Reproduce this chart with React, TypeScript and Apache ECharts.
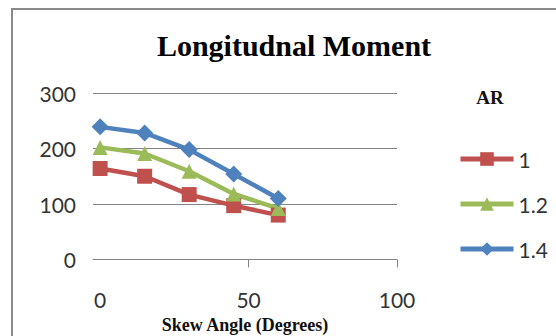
import React, { useEffect, useRef } from "react";
import * as echarts from "echarts";

// Skew angle (degrees) on the x axis
const skewAngles = [0, 15, 30, 45, 60];
// Longitudinal moment for each aspect ratio (AR)
const ar1 = [164, 150, 117, 97, 80];
const ar12 = [202, 191, 159, 118, 92];
const ar14 = [239, 228, 198, 154, 110];
const seriesNames = ["1", "1.2", "1.4"];
const xTickLabels = [0, 50, 100];
const xTickMarks = [50, 100];

const RED = "#C0504D";
const GREEN = "#9BBB59";
const BLUE = "#4F81BD";
const GRID_GRAY = "#868686";
const LABEL_FONT = "Lato, 'Open Sans', sans-serif";
const SERIF = "'Liberation Serif', 'DejaVu Serif', serif";

const pairs = (ys: number[]) => skewAngles.map((x, i) => [x, ys[i]]);

export default function App() {
  const ref = useRef<HTMLDivElement>(null);

  useEffect(() => {
    if (!ref.current) return;
    const chart = echarts.init(ref.current, undefined, { renderer: "svg" });

    const lineSeries = (name: string, ys: number[], color: string, symbol: string, size: number) => ({
      name,
      type: "line",
      data: pairs(ys),
      symbol,
      symbolSize: size,
      showAllSymbol: true,
      lineStyle: { color, width: 4.5 },
      itemStyle: { color, borderWidth: 0 },
    });

    chart.setOption({
      animation: false,
      backgroundColor: "#ffffff",
      title: {
        text: "Longitudnal Moment",
        left: 289,
        textAlign: "center",
        top: 25,
        textStyle: { fontFamily: SERIF, fontWeight: "bold", fontSize: 30, color: "#000" },
      },
      grid: { left: 93, right: 159, top: 93, bottom: 76.5, containLabel: false },
      xAxis: {
        type: "value",
        min: -2.4,
        max: 100,
        splitLine: { show: false },
        axisLine: { show: true, onZero: false, lineStyle: { color: GRID_GRAY, width: 1 } },
        axisTick: { show: true, length: 8, customValues: xTickMarks, lineStyle: { color: GRID_GRAY } },
        axisLabel: {
          customValues: xTickLabels,
          margin: 29,
          fontFamily: LABEL_FONT,
          fontSize: 21,
          color: "#333333",
        },
        name: "Skew Angle (Degrees)",
        nameLocation: "middle",
        nameGap: 56,
        nameTextStyle: { fontFamily: SERIF, fontWeight: "bold", fontSize: 18, color: "#111" },
      },
      yAxis: {
        type: "value",
        min: 0,
        max: 300,
        interval: 100,
        axisLine: { show: false },
        axisTick: { show: false },
        splitLine: { show: true, lineStyle: { color: GRID_GRAY, width: 1 } },
        axisLabel: { margin: 17, fontFamily: LABEL_FONT, fontSize: 21, color: "#333333" },
      },
      legend: {
        orient: "vertical",
        left: 453,
        top: 142,
        itemWidth: 53,
        itemHeight: 17,
        itemGap: 21,
        data: seriesNames,
        lineStyle: { width: 5 },
        textStyle: { fontFamily: LABEL_FONT, fontSize: 21, color: "#333333", lineHeight: 24 },
      },
      graphic: [
        {
          type: "text",
          x: 490,
          y: 97,
          style: {
            text: "AR",
            font: `bold 19px ${SERIF}`,
            fill: "#111",
            align: "center",
            verticalAlign: "middle",
          },
        },
        {
          type: "polyline",
          shape: { points: [[12, 340], [12, 9], [560, 9]] },
          style: { stroke: "#8a8a8a", lineWidth: 2, fill: "none" },
        },
      ],
      series: [
        lineSeries(seriesNames[0], ar1, RED, "rect", 15),
        lineSeries(seriesNames[1], ar12, GREEN, "triangle", 15),
        lineSeries(seriesNames[2], ar14, BLUE, "diamond", 17),
      ],
    });

    return () => chart.dispose();
  }, []);

  return (
    <div
      ref={ref}
      style={{ position: "fixed", left: 0, top: 0, width: 556, height: 336, background: "#fff" }}
    />
  );
}
